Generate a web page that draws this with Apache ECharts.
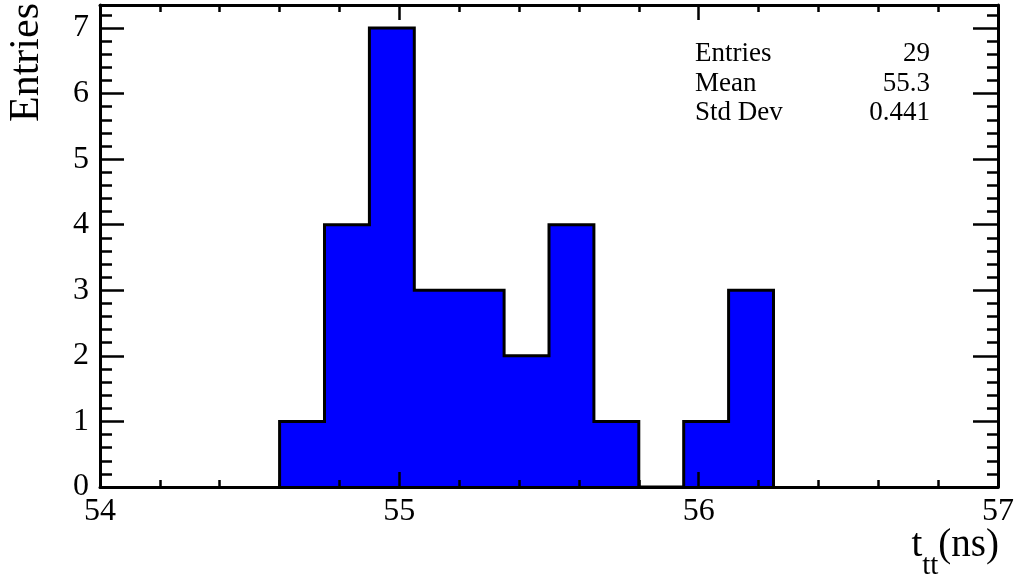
<!DOCTYPE html>
<html>
<head>
<meta charset="utf-8">
<title>t_tt distribution</title>
<script src="https://cdn.jsdelivr.net/npm/echarts@6/dist/echarts.min.js"></script>
<style>
  html, body { margin: 0; padding: 0; background: #ffffff; }
  #chart { width: 1018px; height: 577px; }
</style>
</head>
<body>
<div id="chart"></div>
<script>
// Histogram of t_tt: bin edges (ns) and entries per bin
const binEdges = [54.60, 54.75, 54.90, 55.05, 55.20, 55.35, 55.50, 55.65, 55.80, 55.95, 56.10, 56.25];
const binCounts = [1, 4, 7, 3, 3, 2, 4, 1, 0, 1, 3];

// Axis ranges
const xRange = [54, 57];
const yRange = [0, 7.35];

// Statistics box
const statNames = ['Entries', 'Mean', 'Std Dev'];
const statValues = ['29', '55.3', '0.441'];

const SERIF = '"Liberation Serif", "DejaVu Serif", serif';

// Step outline of the histogram: rise at the first edge, one point per bin, drop at the last edge
const stepPoints = [[binEdges[0], 0]];
binCounts.forEach((c, i) => stepPoints.push([binEdges[i], c]));
stepPoints.push([binEdges[binEdges.length - 1], binCounts[binCounts.length - 1]]);
stepPoints.push([binEdges[binEdges.length - 1], 0]);

const chart = echarts.init(document.getElementById('chart'), null, { renderer: 'canvas' });

const frameLine = { show: true, onZero: false, lineStyle: { color: '#000', width: 3 } };
const noLine = { show: false };
const labelStyle = { color: '#000', fontFamily: SERIF, fontSize: 32 };

function xAxisDef(position, withLabels) {
  return {
    type: 'value', position: position, min: xRange[0], max: xRange[1], interval: 1,
    z: 10,
    axisLine: frameLine,
    axisTick: { show: true, inside: true, length: 15, lineStyle: { color: '#000', width: 2.5 } },
    minorTick: { show: true, splitNumber: 5, length: 7, lineStyle: { color: '#000', width: 2.5 } },
    splitLine: { show: false },
    minorSplitLine: { show: false },
    axisLabel: withLabels ? Object.assign({ show: true, margin: 9 }, labelStyle) : { show: false }
  };
}

function yAxisDef(position, interval, tickLen, withLabels, withLine) {
  return {
    type: 'value', position: position, min: yRange[0], max: yRange[1], interval: interval,
    z: 10,
    axisLine: withLine ? frameLine : noLine,
    axisTick: { show: true, inside: true, length: tickLen, lineStyle: { color: '#000', width: 2.5 } },
    splitLine: { show: false },
    axisLabel: withLabels
      ? Object.assign({ show: true, margin: 11, showMaxLabel: false }, labelStyle)
      : { show: false }
  };
}

// X-axis title "t_tt(ns)": pieces laid out right to left, subscript lowered
const titleFont = '39px ' + SERIF;
const subFont = '29px ' + SERIF;
const measureCtx = document.createElement('canvas').getContext('2d');
function textWidth(text, font) {
  measureCtx.font = font;
  return measureCtx.measureText(text).width;
}
const titleRight = 999;
const titleMid = 546;     // middle line of the main text
const subMid = 566;       // middle line of the subscript
const wParen = textWidth('(ns)', titleFont);
const wSub = textWidth('tt', subFont);
const xTitle = [
  { type: 'text', x: titleRight, y: titleMid,
    style: { text: '(ns)', font: titleFont, fill: '#000', align: 'right', verticalAlign: 'middle' } },
  { type: 'text', x: titleRight - wParen, y: subMid,
    style: { text: 'tt', font: subFont, fill: '#000', align: 'right', verticalAlign: 'middle' } },
  { type: 'text', x: titleRight - wParen - wSub, y: titleMid,
    style: { text: 't', font: titleFont, fill: '#000', align: 'right', verticalAlign: 'middle' } }
];

chart.setOption({
  animation: false,
  backgroundColor: '#ffffff',
  grid: { left: 100, right: 20, top: 5, bottom: 90, containLabel: false, outerBoundsMode: 'none' },
  xAxis: [
    xAxisDef('bottom', true),
    xAxisDef('top', false)
  ],
  yAxis: [
    yAxisDef('left', 1, 24, true, true),
    yAxisDef('left', 0.2, 12, false, false),
    yAxisDef('right', 1, 25, false, true),
    yAxisDef('right', 0.2, 11, false, false)
  ],
  series: [{
    type: 'line',
    xAxisIndex: 0,
    yAxisIndex: 0,
    data: stepPoints,
    step: 'end',
    symbol: 'none',
    z: 2,
    lineStyle: { color: '#000000', width: 3, join: 'miter' },
    areaStyle: { color: '#0000ff', opacity: 1, origin: 'start' }
  }],
  graphic: [
    {
      type: 'text', x: 27, y: 3, rotation: Math.PI / 2,
      style: { text: 'Entries', fill: '#000', font: '42px ' + SERIF, align: 'right', verticalAlign: 'middle' }
    }
  ].concat(xTitle).concat(statNames.map((name, i) => ({
    type: 'text', x: 695, y: 54 + i * 29.5,
    style: { text: name, fill: '#000', font: '27px ' + SERIF, align: 'left', verticalAlign: 'middle' }
  }))).concat(statValues.map((val, i) => ({
    type: 'text', x: 930, y: 54 + i * 29.5,
    style: { text: val, fill: '#000', font: '27px ' + SERIF, align: 'right', verticalAlign: 'middle' }
  })))
});
</script>
</body>
</html>
